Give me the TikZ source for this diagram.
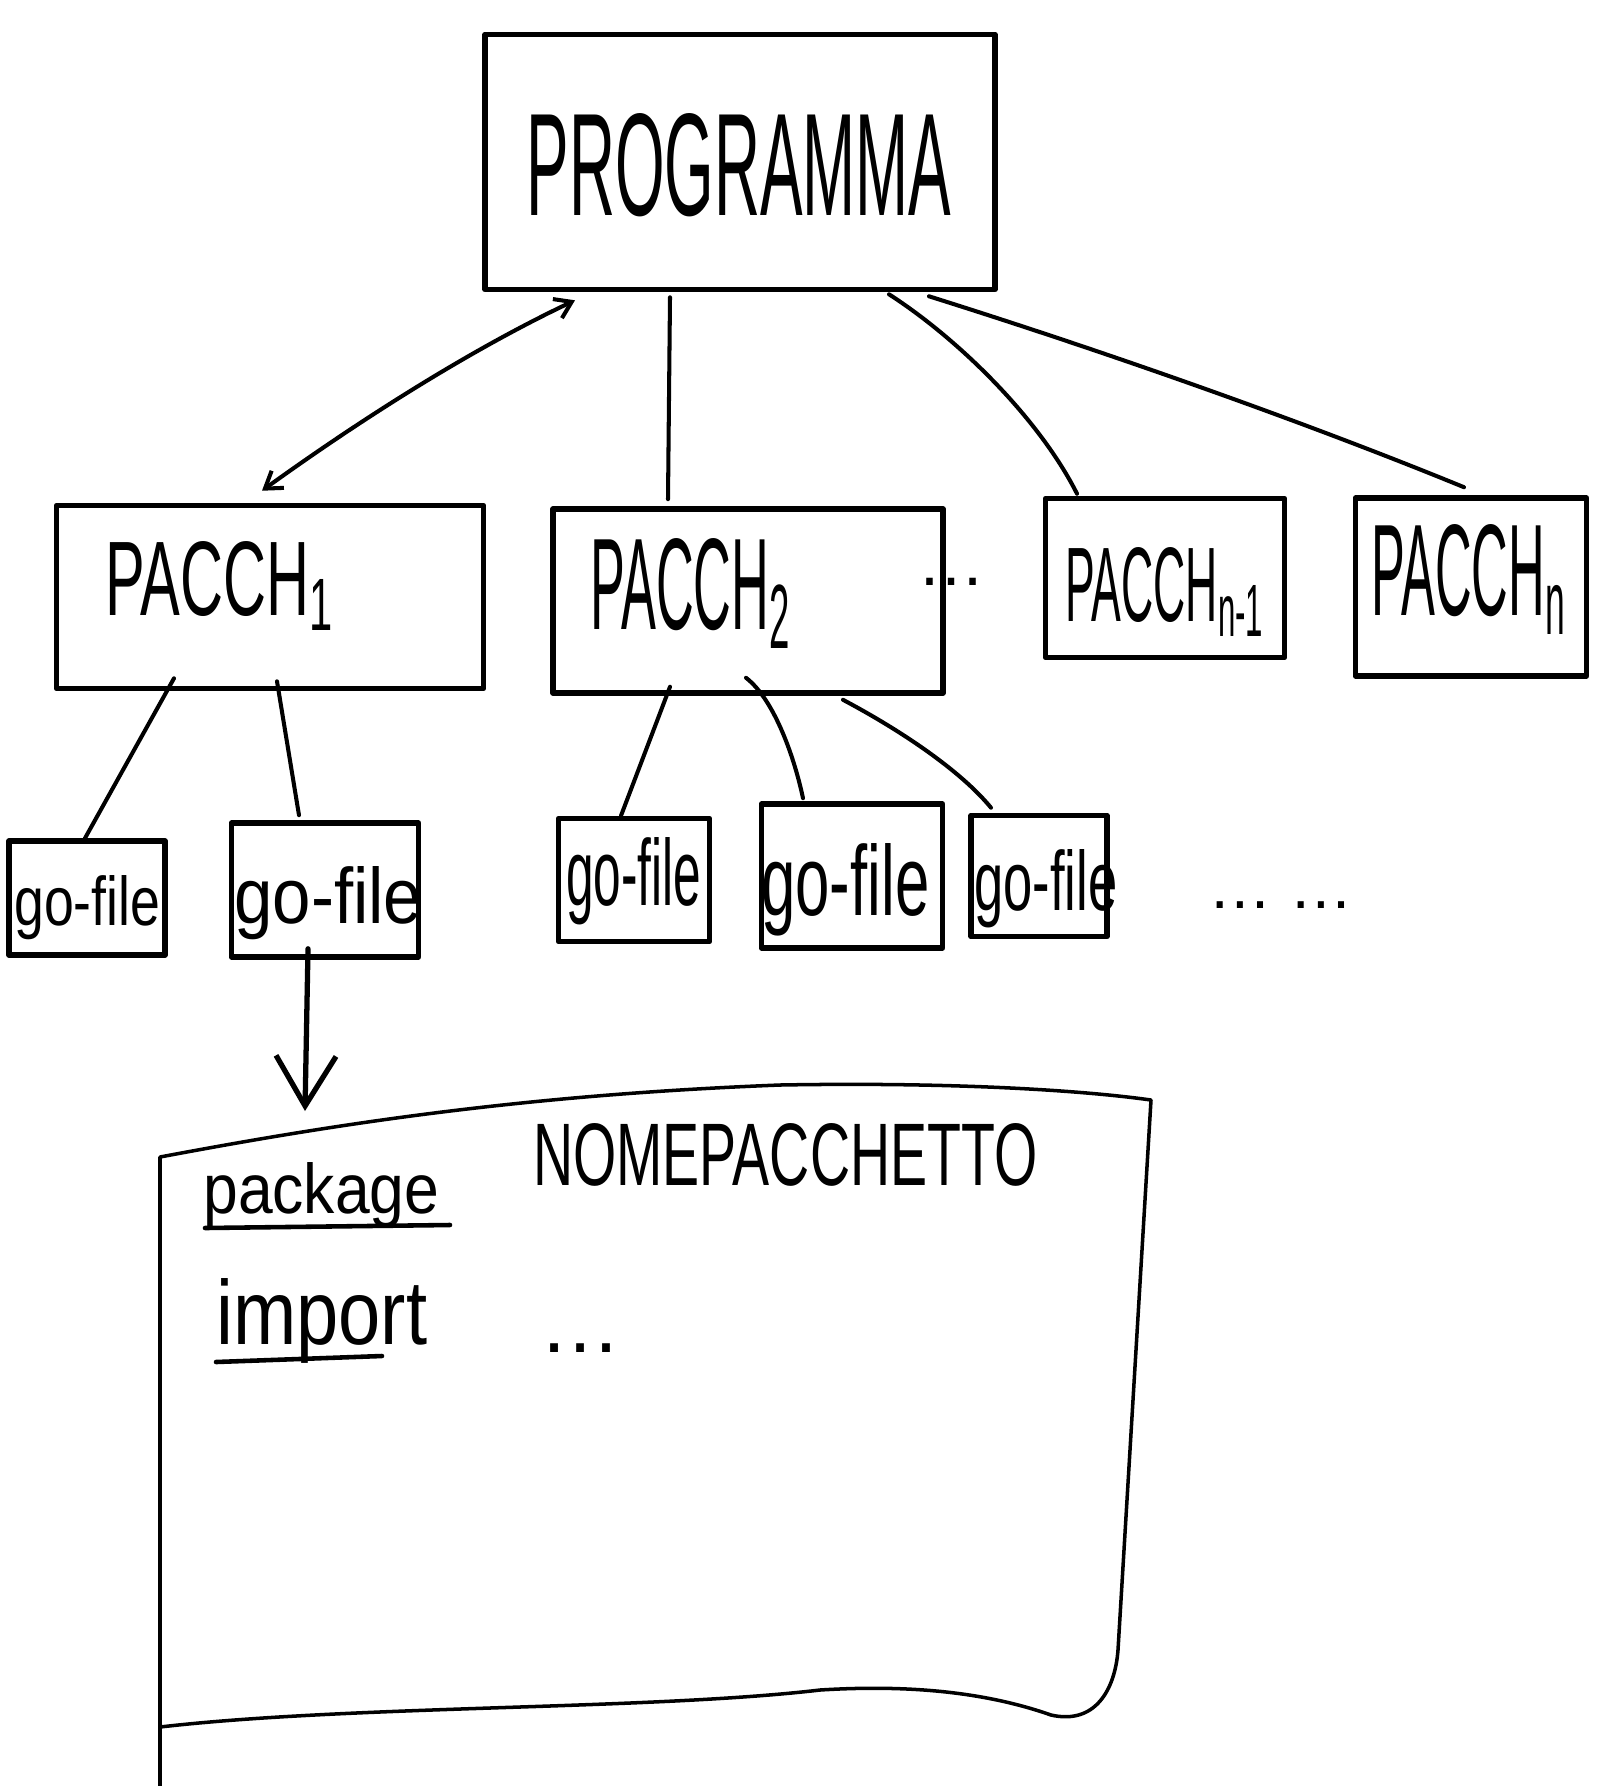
\documentclass[tikz,border=0pt]{standalone}
\usepackage{fontspec}
\setmainfont{Liberation Sans}
\usetikzlibrary{arrows.meta,calc}
\begin{document}
\begin{tikzpicture}[x=0.02cm,y=-0.02cm,
  box/.style={draw, line width=3.2pt, inner sep=0pt, line join=round},
  conn/.style={line width=2.3pt, line cap=round},
  lbl/.style={inner sep=0pt, anchor=base west}]
\useasboundingbox (0,0) rectangle (1602,1786);
% boxes
\node[box, minimum width=10.2cm, minimum height=5.1cm] (prog) at (740,162) {};
\node[box, minimum width=8.54cm, minimum height=3.66cm] (p1) at (270,597) {};
\node[box, minimum width=7.8cm, minimum height=3.68cm] (p2) at (748,601) {};
\node[box, minimum width=4.78cm, minimum height=3.18cm] (pn1) at (1165,578) {};
\node[box, minimum width=4.62cm, minimum height=3.56cm] (pn) at (1471,587) {};
\node[box, minimum width=3.12cm, minimum height=2.28cm] (g1) at (87,898) {};
\node[box, minimum width=3.74cm, minimum height=2.68cm] (g2) at (325,890) {};
\node[box, minimum width=3.02cm, minimum height=2.46cm] (g3) at (634,880) {};
\node[box, minimum width=3.62cm, minimum height=2.88cm] (g4) at (852,876) {};
\node[box, minimum width=2.72cm, minimum height=2.42cm] (g5) at (1039,876) {};
% labels
\node[inner sep=0pt] (tprog) at (739,165) {\resizebox{8.5cm}{2.04cm}{PROGRAMMA}};
\node[lbl] (tp1) at (105,615) {\resizebox{4.6cm}{1.48cm}{PACCH\textsubscript{1}}};
\node[lbl] (tp2) at (590,629) {\resizebox{4.04cm}{1.82cm}{PACCH\textsubscript{2}}};
\node[lbl] (tpn1) at (1065,621) {\resizebox{4.0cm}{1.48cm}{PACCH\textsubscript{n-1}}};
\node[lbl] (tpn) at (1371,615) {\resizebox{3.92cm}{1.82cm}{PACCH\textsubscript{n}}};
\node[lbl] (tg1) at (14,925) {\resizebox{2.92cm}{1.0cm}{go-file}};
\node[lbl] (tg2) at (234,923) {\resizebox{3.76cm}{1.14cm}{go-file}};
\node[lbl] (tg3) at (566,905) {\resizebox{2.7cm}{1.36cm}{go-file}};
\node[lbl] (tg4) at (761,915) {\resizebox{3.36cm}{1.44cm}{go-file}};
\node[lbl] (tg5) at (974,910) {\resizebox{2.86cm}{1.22cm}{go-file}};
\node[lbl] (dots1) at (917,585) {\resizebox{1.36cm}{!}{\ldots}};
\node[lbl] (dots2) at (1208,908) {\resizebox{2.9cm}{!}{\ldots\ \ldots}};
\node[lbl] (tname) at (533,1185) {\resizebox{10.08cm}{1.24cm}{NOMEPACCHETTO}};
\node[lbl] (tpkg) at (203,1213) {\resizebox{4.72cm}{1.02cm}{package}};
\node[lbl] (timp) at (216,1344) {\resizebox{4.22cm}{1.32cm}{import}};
\node[lbl] (dots3) at (539,1352) {\resizebox{1.64cm}{!}{\ldots}};
% underlines
\draw[line width=2.6pt, line cap=round] (205,1228) -- (450,1225);
\draw[line width=2.6pt, line cap=round] (216,1362) -- (382,1356);
% connectors
\draw[conn, {Straight Barb[length=9pt,width=12pt]}-{Straight Barb[length=9pt,width=12pt]}]
  ($(prog.south)+(-165,8)$) .. controls (470,350) and (360,420) .. ($(p1.north)+(-8,-12)$);
\draw[conn] ($(prog.south)+(-70,5)$) -- ($(p2.north)+(-80,-7)$);
\draw[conn] ($(prog.south)+(149,2)$) .. controls (960,340) and (1040,420) .. ($(pn1.north)+(-88,-2)$);
\draw[conn] ($(prog.south)+(189,4)$) .. controls (1100,350) and (1300,420) .. ($(pn.north)+(-7,-8)$);
\draw[conn] ($(p1.south)+(-96,-13)$) -- ($(g1.north)+(-2,0)$);
\draw[conn] ($(p1.south)+(7,-10)$) -- ($(g2.north)+(-26,-5)$);
\draw[conn] ($(p2.south)+(-78,-9)$) -- ($(g3.north)+(-13,0)$);
\draw[conn] ($(p2.south)+(-2,-18)$) .. controls (775,700) and (795,760) .. ($(g4.north)+(-49,-3)$);
\draw[conn] ($(p2.south)+(95,4)$) .. controls (900,730) and (960,770) .. ($(g5.north)+(-48,-5)$);
% big file box
\coordinate (bigtop) at (305,1111);
\draw[line width=2pt, line join=round] (160,1786) -- (160,1157)
  .. controls (330,1125) and (520,1095) .. (780,1085)
  .. controls (950,1082) and (1080,1090) .. (1151,1100)
  -- (1118,1650)
  .. controls (1115,1690) and (1095,1725) .. (1051,1715)
  .. controls (980,1690) and (900,1685) .. (820,1690)
  .. controls (650,1710) and (350,1705) .. (160,1727);
\draw[line width=3pt, line cap=round, -{Straight Barb[length=1cm,width=1.2cm]}]
  ($(g2.south)+(-17,-11)$) -- (bigtop);
\end{tikzpicture}
\end{document}
